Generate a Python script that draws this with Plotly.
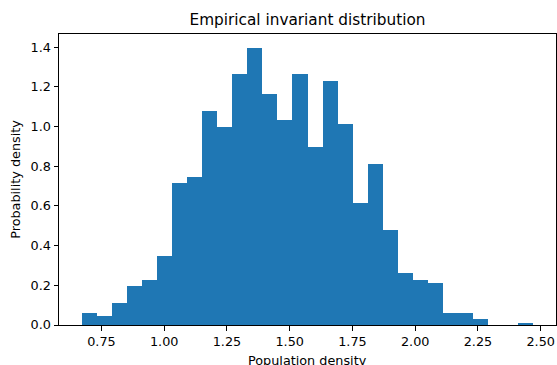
import numpy as np
import plotly.graph_objects as go

# Histogram data (probability density per bin)
bin_min = 0.671
bin_max = 2.471
n_bins = 30
densities = [0.062, 0.047, 0.112, 0.198, 0.228, 0.349, 0.717, 0.747, 1.079, 0.999,
             1.266, 1.396, 1.165, 1.034, 1.266, 0.898, 1.230, 1.014, 0.616, 0.812,
             0.480, 0.264, 0.228, 0.213, 0.062, 0.062, 0.032, 0.0, 0.0, 0.012]
x_ticks = [0.75, 1.00, 1.25, 1.50, 1.75, 2.00, 2.25, 2.50]
y_ticks = [0.0, 0.2, 0.4, 0.6, 0.8, 1.0, 1.2, 1.4]

edges = np.linspace(bin_min, bin_max, n_bins + 1)
centers = (edges[:-1] + edges[1:]) / 2
widths = np.diff(edges)

span = bin_max - bin_min
x_range = [bin_min - 0.05 * span, bin_max + 0.05 * span]
y_range = [0, 1.05 * max(densities)]

FONT = "DejaVu Sans"

fig = go.Figure(go.Bar(
    x=centers, y=densities, width=widths,
    marker=dict(color="#1f77b4", line=dict(width=0)),
    hoverinfo="x+y",
))

axis_common = dict(
    showline=True, linecolor="black", linewidth=1, mirror=True,
    ticks="outside", ticklen=4.5, tickwidth=1, tickcolor="black",
    showgrid=False, zeroline=False,
    tickfont=dict(family=FONT, size=12.8, color="black"),
)

fig.update_layout(
    width=557, height=365,
    margin=dict(l=59, r=1, t=34, b=40, autoexpand=False),
    paper_bgcolor="white", plot_bgcolor="white",
    bargap=0,
    showlegend=False,
    title=dict(text="Empirical invariant distribution", x=0.552, xanchor="center",
               xref="container", y=1 - 20 / 365, yref="container", yanchor="middle",
               font=dict(family=FONT, size=15.3, color="black")),
    xaxis=dict(range=x_range, tickvals=x_ticks, ticktext=[f"{v:.2f}" for v in x_ticks],
               **axis_common),
    yaxis=dict(range=y_range, tickvals=y_ticks, ticktext=[f"{v:.1f}" for v in y_ticks],
               title=dict(text="Probability density", font=dict(family=FONT, size=12.8, color="black"),
                          standoff=7),
               **axis_common),
    annotations=[dict(text="Population density", x=0.5, xref="paper", y=0, yref="paper",
                      xanchor="center", yanchor="top", yshift=-26, showarrow=False,
                      font=dict(family=FONT, size=12.8, color="black"))],
)

fig.write_html("out.html")
